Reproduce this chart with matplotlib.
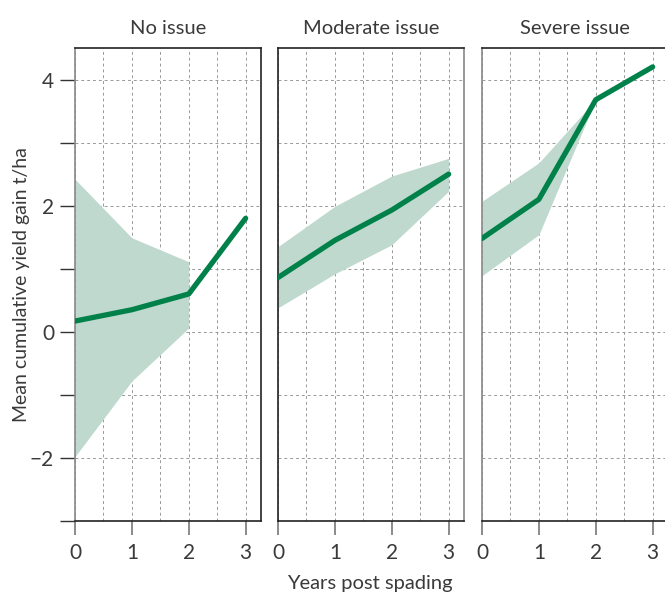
import matplotlib.pyplot as plt
import numpy as np

plt.rcParams['font.family'] = ['Lato', 'DejaVu Sans']

years = [0, 1, 2, 3]
panels = ["No issue", "Moderate issue", "Severe issue"]

# mean cumulative yield gain, t/ha
no_mean = [0.17, 0.35, 0.60, 1.80]
mod_mean = [0.86, 1.45, 1.93, 2.50]
sev_mean = [1.48, 2.10, 3.68, 4.20]

# confidence band (No issue band only goes to year 2)
no_band_years = [0, 1, 2]
no_upper = [2.42, 1.49, 1.11]
no_lower = [-1.98, -0.78, 0.06]
mod_upper = [1.35, 1.99, 2.47, 2.75]
mod_lower = [0.38, 0.92, 1.38, 2.23]
sev_band_years = [0, 1, 2]
sev_upper = [2.07, 2.68, 3.68]
sev_lower = [0.89, 1.54, 3.68]

means = [no_mean, mod_mean, sev_mean]
bands = [(no_band_years, no_lower, no_upper),
         (years, mod_lower, mod_upper),
         (sev_band_years, sev_lower, sev_upper)]

line_col = '#00814a'
band_col = '#bfd9cf'
text_col = '#3a3a3a'
grid_col = '#999999'

fig = plt.figure(figsize=(6.65, 5.93), dpi=100)
lefts = [75, 278, 482]
W, H = 665, 593
axes = []
for i, l in enumerate(lefts):
    ax = fig.add_axes([l / W, 1 - 521 / H, 186 / W, (521 - 48) / H])
    axes.append(ax)
    bx, lo, hi = bands[i]
    ax.fill_between(bx, lo, hi, color=band_col, lw=0, zorder=2)
    ax.plot(years, means[i], color=line_col, lw=3.8, solid_capstyle='round', zorder=3)
    ax.set_xlim(0, 3.27)
    ax.set_ylim(-3, 4.5)
    ax.set_xticks(years)
    ax.set_xticks(np.arange(0.5, 3.3, 0.5), minor=True)
    ax.set_yticks(np.arange(-3, 5, 1))
    ax.grid(True, which='both', axis='x', ls=(0, (3, 3)), color=grid_col, lw=0.7, zorder=1)
    ax.grid(True, which='major', axis='y', ls=(0, (3, 3)), color=grid_col, lw=0.7, zorder=1)
    ax.tick_params(axis='x', which='major', length=10, width=1.2, color='#777777',
                   labelsize=15, labelcolor=text_col, pad=6)
    ax.tick_params(axis='x', which='minor', length=0)
    if i == 0:
        ax.set_yticklabels(['', '\u22122', '', '0', '', '2', '', '4'])
        ax.tick_params(axis='y', length=11, width=1.0, color='#333333',
                       labelsize=15, labelcolor=text_col, pad=4)
    else:
        ax.tick_params(axis='y', length=0, labelleft=False)
    for s in ax.spines.values():
        s.set_color('#222222')
        s.set_linewidth(1.2)
    ax.set_title(panels[i], fontsize=14.5, color=text_col, pad=10)

axes[0].spines['left'].set_color('#888888')
axes[2].spines['left'].set_color('#888888')
axes[1].spines['right'].set_color('#888888')

axes[0].set_ylabel('Mean cumulative yield gain t/ha', fontsize=14, color=text_col, labelpad=0)
fig.text(370 / W, 1 - 583 / H, 'Years post spading', fontsize=14.5, color=text_col,
         ha='center', va='center')

fig.savefig('out.png', dpi=100)
